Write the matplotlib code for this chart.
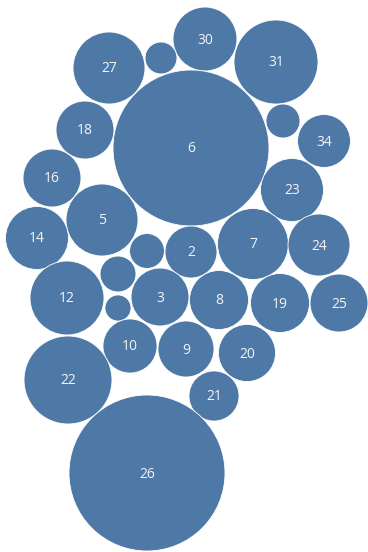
import matplotlib.pyplot as plt
import numpy as np
from matplotlib.patches import Circle

# Packed bubble layout (x, y in layout units, y grows downward) and bubble sizes.
labels = ["30", "", "27", "31", "6", "", "18", "34", "16", "23",
          "5", "14", "", "2", "7", "24", "12", "", "", "3",
          "8", "19", "25", "10", "9", "20", "22", "21", "26"]
values = [16.8, 4.2, 21.3, 29.0, 100.0, 4.75, 13.8, 11.5, 13.8, 16.3,
          21.3, 16.3, 5.0, 11.1, 20.7, 15.8, 22.5, 5.3, 2.8, 13.8,
          14.3, 14.3, 13.8, 12.0, 12.9, 13.4, 31.8, 10.3, 100.0]
x_pos = [205, 161, 109, 276, 191, 283, 85, 324, 52, 292,
         102, 37, 147, 191, 253, 319, 67, 118, 118, 160,
         219, 280, 339, 130, 186, 247, 68, 214, 147]
y_pos = [39, 58, 68, 62, 148, 121, 130, 141, 178, 190,
         220, 238, 251, 252, 244, 245, 298, 274, 308, 297,
         300, 303, 303, 346, 349, 353, 380, 396, 473]

BUBBLE_COLOR = "#4e79a7"
MAX_RADIUS = 78.0


def main() -> None:
    fig = plt.figure(figsize=(3.68, 5.52), dpi=100)
    ax = fig.add_axes([0, 0, 1, 1])

    vmax = max(values)
    for lab, v, x, y in zip(labels, values, x_pos, y_pos):
        r = MAX_RADIUS * np.sqrt(v / vmax)
        ax.add_patch(Circle((x, y), r, facecolor=BUBBLE_COLOR,
                            edgecolor="white", linewidth=0.6))
        if lab:
            ax.text(x, y + 1, lab, color="#f4f4f4", fontsize=10,
                    ha="center", va="center", family="Open Sans")

    ax.set_xlim(0, 368)
    ax.set_ylim(552, 0)
    ax.set_aspect("equal")
    ax.axis("off")

    fig.savefig("out.png", dpi=100, facecolor="white")
    plt.close(fig)


if __name__ == "__main__":
    main()
